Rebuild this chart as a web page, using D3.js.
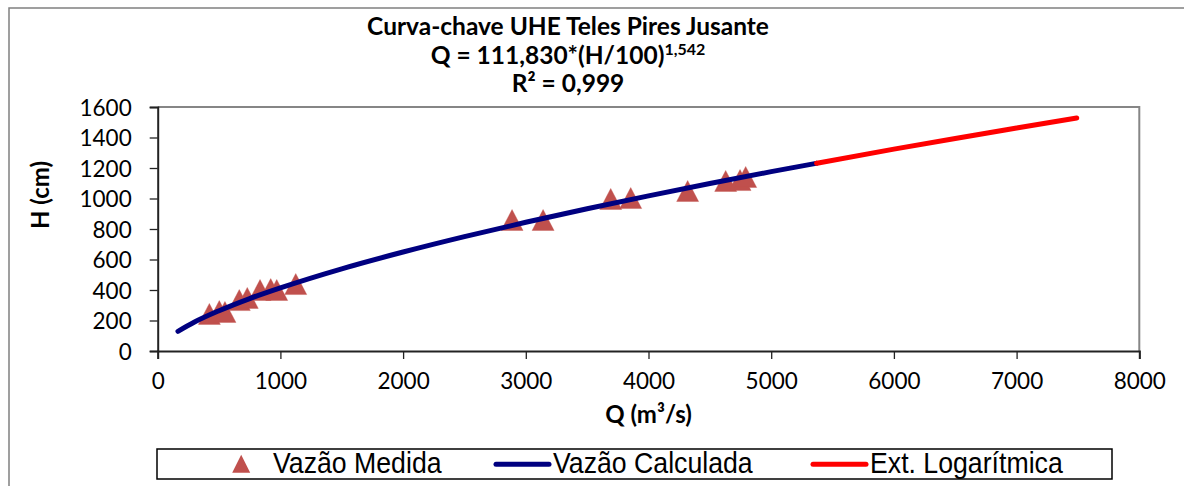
<!DOCTYPE html>
<html><head><meta charset="utf-8">
<script src="https://cdn.jsdelivr.net/npm/d3@7"></script>
<style>
html,body{margin:0;padding:0;background:#fff;}
svg{display:block;}
</style></head>
<body>
<svg id="chart" width="1184" height="486"></svg>
<script>
// ---- data ----
const measuredQ = [421, 502, 548, 665, 730, 834, 921, 970, 1125, 2888, 3141, 3692, 3855, 4319, 4629, 4746, 4792];
const measuredH = [243, 262, 256, 334, 348, 400, 406, 400, 439, 859, 859, 997, 1003, 1049, 1115, 1121, 1141];
const calcQ = [165, 300, 500, 750, 1000, 1500, 2000, 2500, 3000, 3500, 4000, 4500, 5000, 5370];
const calcH = [129, 190, 264, 344, 414, 539, 649, 750, 844, 933, 1017, 1098, 1176, 1231];
const extQ = [5370, 6000, 6500, 7000, 7490];
const extH = [1231, 1324, 1394, 1462, 1528];
const xTicks = [0, 1000, 2000, 3000, 4000, 5000, 6000, 7000, 8000];
const yTicks = [0, 200, 400, 600, 800, 1000, 1200, 1400, 1600];
const titleLines = ["Curva-chave UHE Teles Pires Jusante", "Q = 111,830*(H/100)", "R² = 0,999"];
const titleSup = "1,542";
const xTitle = "Q (m³/s)";
const yTitle = "H (cm)";
const legendLabels = ["Vazão Medida", "Vazão Calculada", "Ext. Logarítmica"];

const svg = d3.select("#chart");
const L = 157.7, R = 1139.3, T = 107, B = 351;
const x = d3.scaleLinear().domain([0, 8000]).range([L, R]);
const y = d3.scaleLinear().domain([0, 1600]).range([B, T]);

const calFont = "Lato, 'Open Sans', sans-serif";
const arialFont = "'Liberation Sans', Arial, sans-serif";

// outer chart border
svg.append("rect").attr("x", 9).attr("y", 8).attr("width", 1200).attr("height", 500)
  .attr("fill", "none").attr("stroke", "#808080").attr("stroke-width", 1.5);

// plot area border (top/right gray)
svg.append("path").attr("d", `M${L},${T}H${R}V${B}`).attr("fill", "none")
  .attr("stroke", "#868686").attr("stroke-width", 2);

// axes
const xAxis = d3.axisBottom(x).tickValues(xTicks).tickSize(8).tickPadding(14).tickFormat(d3.format("d"));
const yAxis = d3.axisLeft(y).tickValues(yTicks).tickSize(8).tickPadding(18).tickFormat(d3.format("d"));
const gx = svg.append("g").attr("transform", `translate(0,${B})`).call(xAxis);
const gy = svg.append("g").attr("transform", `translate(${L},0)`).call(yAxis);
[gx, gy].forEach(g => {
  g.select(".domain").attr("stroke", "#222").attr("stroke-width", 2);
  g.selectAll(".tick line").attr("stroke", "#222").attr("stroke-width", 1.3);
  g.selectAll(".tick text").attr("fill", "#000").style("font-family", calFont).style("font-size", "22.5px");
});
gy.selectAll(".tick text").attr("dy", "0.36em");

// measured points (triangles)
const tw = 22, th = 21;
const tri = (cx, cy, w, h) => `M${cx},${cy - h / 2}L${cx + w / 2},${cy + h / 2}L${cx - w / 2},${cy + h / 2}Z`;
svg.append("g").selectAll("path").data(measuredQ.map((q, i) => [q, measuredH[i]])).join("path")
  .attr("d", d => tri(x(d[0]), y(d[1]), tw, th))
  .attr("fill", "#C0504D").attr("stroke", "#C0504D").attr("stroke-width", 0.6).attr("stroke-opacity", 0.6);

// lines
const line = d3.line().x(d => x(d[0])).y(d => y(d[1])).curve(d3.curveMonotoneX);
svg.append("path").datum(calcQ.map((q, i) => [q, calcH[i]])).attr("d", line)
  .attr("fill", "none").attr("stroke", "#000080").attr("stroke-width", 5).attr("stroke-linecap", "round");
svg.append("path").datum(extQ.map((q, i) => [q, extH[i]])).attr("d", line)
  .attr("fill", "none").attr("stroke", "#FF0000").attr("stroke-width", 5).attr("stroke-linecap", "round");

// title
const tg = svg.append("text").attr("text-anchor", "middle").style("font-family", calFont)
  .style("font-weight", "bold").style("font-size", "24.5px").attr("fill", "#000");
tg.append("tspan").attr("x", 568).attr("y", 35).text(titleLines[0]);
const l2 = tg.append("tspan").attr("x", 568).attr("y", 64);
l2.append("tspan").text(titleLines[1]);
l2.append("tspan").attr("dy", -9).style("font-size", "16px").text(titleSup);
tg.append("tspan").attr("x", 568).attr("y", 92).text(titleLines[2]);

// axis titles
svg.append("text").attr("x", (L + R) / 2).attr("y", 423).attr("text-anchor", "middle")
  .style("font-family", calFont).style("font-weight", "bold").style("font-size", "24px").text(xTitle);
svg.append("text").attr("transform", "translate(49,195) rotate(-90)").attr("text-anchor", "middle")
  .style("font-family", calFont).style("font-weight", "bold").style("font-size", "24px").text(yTitle);

// legend
const lg = svg.append("g");
lg.append("rect").attr("x", 157).attr("y", 449).attr("width", 955).attr("height", 30)
  .attr("fill", "#fff").attr("stroke", "#000").attr("stroke-width", 1.5);
lg.append("path").attr("d", tri(241.2, 463.8, 18, 18)).attr("fill", "#C0504D");
lg.append("line").attr("x1", 496).attr("x2", 549).attr("y1", 464.3).attr("y2", 464.3)
  .attr("stroke", "#000080").attr("stroke-width", 5).attr("stroke-linecap", "round");
lg.append("line").attr("x1", 813).attr("x2", 866).attr("y1", 464.3).attr("y2", 464.3)
  .attr("stroke", "#FF0000").attr("stroke-width", 5).attr("stroke-linecap", "round");
const lx = [273, 553, 870];
legendLabels.forEach((t, i) => {
  lg.append("text").attr("transform", `translate(${lx[i]},473) scale(0.92,1)`)
    .style("font-family", arialFont).style("font-size", "29px").attr("fill", "#000").text(t);
});
</script>
</body></html>
